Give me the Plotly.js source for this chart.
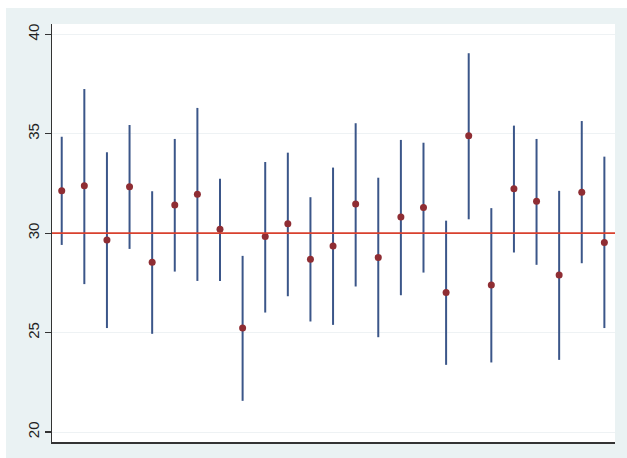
<!DOCTYPE html>
<html>
<head>
<meta charset="utf-8">
<script src="https://cdn.plot.ly/plotly-3.0.1.min.js"></script>
<style>html,body{margin:0;padding:0;background:#fff;}#chart{width:627px;height:458px;}</style>
</head>
<body>
<div id="chart"></div>
<script>
var groups = [1,2,3,4,5,6,7,8,9,10,11,12,13,14,15,16,17,18,19,20,21,22,23,24,25];
var estimates = [32.14,32.38,29.66,32.33,28.54,31.42,31.96,30.20,25.23,29.83,30.47,28.69,29.36,31.47,28.78,30.82,31.29,27.02,34.90,27.39,32.24,31.61,27.90,32.06,29.53];
var upper = [34.85,37.25,34.07,35.44,32.11,34.74,36.30,32.74,28.86,33.58,34.05,31.81,33.30,35.53,32.79,34.69,34.55,30.63,39.05,31.26,35.41,34.74,32.13,35.64,33.85];
var lower = [29.41,27.44,25.23,29.21,24.94,28.07,27.60,27.60,21.57,26.01,26.83,25.56,25.39,27.32,24.77,26.88,28.02,23.38,30.70,23.50,29.03,28.41,23.63,28.49,25.23];
var referenceValue = 30;
var yTicks = [20,25,30,35,40];

var errPlus = upper.map(function(u,i){return u - estimates[i];});
var errMinus = lower.map(function(l,i){return estimates[i] - l;});

var trace = {
  x: groups, y: estimates, type: 'scatter', mode: 'markers',
  marker: {color: '#8f2d33', size: 7},
  error_y: {type: 'data', symmetric: false, array: errPlus, arrayminus: errMinus,
            width: 0, thickness: 2, color: '#3b5689'},
  hoverinfo: 'skip'
};

var layout = {
  width: 627, height: 458,
  margin: {l: 52, r: 12, t: 24, b: 16, pad: 0},
  paper_bgcolor: '#eaf2f3',
  plot_bgcolor: '#ffffff',
  showlegend: false,
  font: {family: 'Liberation Sans, Arial, sans-serif', size: 15, color: '#222'},
  xaxis: {range: [0.57, 25.47], showgrid: false, zeroline: false, showticklabels: false,
          ticks: '', showline: true, linecolor: '#333', linewidth: 1.5},
  yaxis: {range: [19.5, 40.52], tickvals: yTicks, ticktext: yTicks.map(String),
          tickangle: -90, ticks: 'outside', ticklen: 6, tickcolor: '#333', tickwidth: 1.2,
          showline: true, linecolor: '#333', linewidth: 1.5, zeroline: false,
          showgrid: true, gridcolor: '#eef2f4', gridwidth: 1},
  shapes: [
    {type: 'rect', xref: 'paper', yref: 'paper', x0: -0.1, x1: 1.05, y0: 1.0383, y1: 1.1,
     fillcolor: '#ffffff', line: {width: 0}, layer: 'below'},
    {type: 'rect', xref: 'paper', yref: 'paper', x0: -0.1, x1: -0.0817, y0: -0.1, y1: 1.1,
     fillcolor: '#ffffff', line: {width: 0}, layer: 'below'},
    {type: 'line', xref: 'paper', yref: 'y', x0: 0, x1: 1, y0: referenceValue, y1: referenceValue,
     line: {color: '#d8412e', width: 1.8}, layer: 'above'}
  ]
};

Plotly.newPlot('chart', [trace], layout, {staticPlot: true, displayModeBar: false});
</script>
</body>
</html>
